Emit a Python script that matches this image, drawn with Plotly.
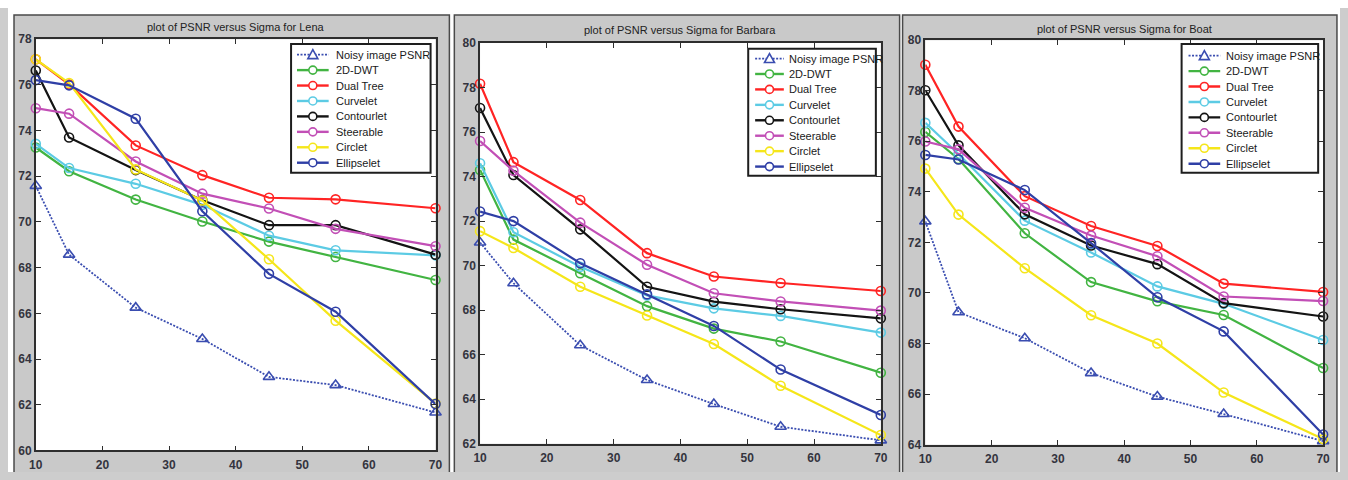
import plotly.graph_objects as go

# The page adds an 8px body margin; the figure is sized so the page is 1348x480.
PAGE_W, PAGE_H, OFF = 1348, 480, 8
W, H = PAGE_W - 2 * OFF, PAGE_H - 2 * OFF

sigma = [10, 15, 25, 35, 45, 55, 70]
x_ticks = [10, 20, 30, 40, 50, 60, 70]

series_names = ["Noisy image PSNR", "2D-DWT", "Dual Tree", "Curvelet",
                "Contourlet", "Steerable", "Circlet", "Ellipselet"]
series_colors = ["#3a4db0", "#42b442", "#ff2424", "#5ccbe4",
                 "#141414", "#c24fb6", "#f5e61a", "#2f3fa6"]

# Lena
lena_noisy = [71.58, 68.57, 66.25, 64.88, 63.22, 62.86, 61.66]
lena_dwt = [73.26, 72.22, 70.98, 70.02, 69.14, 68.47, 67.46]
lena_dual = [77.12, 76.02, 73.35, 72.05, 71.06, 70.99, 70.60]
lena_curve = [73.42, 72.36, 71.67, 70.75, 69.40, 68.76, 68.54]
lena_contour = [76.63, 73.70, 72.27, 70.95, 69.86, 69.86, 68.57]
lena_steer = [74.98, 74.74, 72.65, 71.24, 70.59, 69.70, 68.94]
lena_circlet = [77.12, 76.08, 72.30, 70.94, 68.37, 65.68, 62.05]
lena_ellip = [76.21, 75.98, 74.52, 70.47, 67.73, 66.07, 62.03]

# Barbara
barb_noisy = [71.04, 69.21, 66.42, 64.86, 63.78, 62.76, 62.15]
barb_dwt = [74.30, 71.17, 69.66, 68.18, 67.17, 66.59, 65.19]
barb_dual = [78.17, 74.65, 72.95, 70.56, 69.51, 69.22, 68.86]
barb_curve = [74.60, 71.50, 69.95, 68.66, 68.08, 67.74, 66.99]
barb_contour = [77.08, 74.07, 71.63, 69.05, 68.38, 68.04, 67.63]
barb_steer = [75.60, 74.26, 71.93, 70.04, 68.76, 68.39, 67.98]
barb_circlet = [71.55, 70.79, 69.05, 67.76, 66.48, 64.60, 62.39]
barb_ellip = [72.43, 72.00, 70.11, 68.71, 67.29, 65.33, 63.29]

# Boat
boat_noisy = [72.83, 69.24, 68.21, 66.83, 65.90, 65.21, 64.14]
boat_dwt = [76.37, 75.30, 72.36, 70.43, 69.67, 69.13, 67.03]
boat_dual = [79.03, 76.58, 73.83, 72.65, 71.86, 70.37, 70.04]
boat_curve = [76.73, 75.50, 72.86, 71.60, 70.26, 69.57, 68.14]
boat_contour = [78.02, 75.84, 73.11, 71.88, 71.14, 69.60, 69.07]
boat_steer = [75.99, 75.68, 73.37, 72.27, 71.45, 69.86, 69.68]
boat_circlet = [74.92, 73.10, 70.98, 69.12, 68.00, 66.06, 64.22]
boat_ellip = [75.46, 75.28, 74.07, 71.97, 69.83, 68.48, 64.40]

titles = ["plot of PSNR versus Sigma for Lena",
          "plot of PSNR versus Sigma for Barbara",
          "plot of PSNR versus Sigma for Boat"]
y_ranges = [[60, 78], [62, 80], [64, 80]]
y_ticks = [list(range(60, 79, 2)), list(range(62, 81, 2)), list(range(64, 81, 2))]

panel_data = [
    [lena_noisy, lena_dwt, lena_dual, lena_curve, lena_contour, lena_steer, lena_circlet, lena_ellip],
    [barb_noisy, barb_dwt, barb_dual, barb_curve, barb_contour, barb_steer, barb_circlet, barb_ellip],
    [boat_noisy, boat_dwt, boat_dual, boat_curve, boat_contour, boat_steer, boat_circlet, boat_ellip],
]

# ---- layout geometry (page pixels) ----
plot_px = [(29, 33, 433, 458), (478, 37, 883, 451), (928, 34, 1330, 452)]
panel_px = [(7, 8, 447, 490), (452, 8, 902, 490), (905, 8, 1344, 490)]
legend_px = [(287, 38, 428, 171), (749, 43, 878, 174), (1187, 38, 1325, 171)]
legend_first_row = [11, 10, 12]
legend_line = [(6, 38, 43), (7, 36, 39), (7, 39, 43)]
title_y = [20, 24, 22]
ROW = 15.95

FONT = "Liberation Sans, Arial, sans-serif"
TICKCOL = "#34343e"


def px(x):
    return (x - OFF) / W


def py(y):
    return 1 - (y - OFF) / H


fig = go.Figure()
shapes = []
annotations = []

for p in range(3):
    x0, y0, x1, y1 = panel_px[p]
    shapes.append(dict(type="rect", xref="paper", yref="paper", layer="below",
                       x0=px(x0), x1=px(x1), y0=py(y1), y1=py(y0),
                       fillcolor="#c9c9c9", line=dict(color="#4a4a4a", width=1.5)))
    l, t, r, b = plot_px[p]
    shapes.append(dict(type="rect", xref="paper", yref="paper", layer="below",
                       x0=px(l), x1=px(r), y0=py(b), y1=py(t),
                       fillcolor="white", line=dict(width=0)))

for p in range(3):
    sfx = "" if p == 0 else str(p + 1)
    xa, ya = "x" + sfx, "y" + sfx
    for i, name in enumerate(series_names):
        noisy = i == 0
        fig.add_trace(go.Scatter(
            x=sigma, y=panel_data[p][i], name=name, xaxis=xa, yaxis=ya,
            mode="lines+markers", showlegend=False, cliponaxis=False,
            line=dict(color=series_colors[i], width=1.8 if noisy else 2.2,
                      dash="2px,1.5px" if noisy else "solid"),
            marker=dict(symbol="triangle-up-open" if noisy else "circle-open",
                        size=10 if noisy else 9, color=series_colors[i],
                        line=dict(width=1.6, color=series_colors[i])),
        ))
    l, t, r, b = plot_px[p]
    axis_common = dict(showline=True, linecolor="#2e2e2e", linewidth=1.5, mirror="ticks",
                       ticks="inside", ticklen=5, tickcolor="#2e2e2e", tickwidth=1.3,
                       showgrid=False, zeroline=False,
                       tickfont=dict(family=FONT, size=12, color=TICKCOL, weight="bold"))
    fig.update_layout(**{
        "xaxis" + sfx: dict(domain=[px(l), px(r)], range=[10, 70], tickvals=x_ticks,
                            anchor=ya, ticklabelstandoff=2, **axis_common),
        "yaxis" + sfx: dict(domain=[py(b), py(t)], range=y_ranges[p], tickvals=y_ticks[p],
                            anchor=xa, ticklabelstandoff=0, **axis_common),
    })
    annotations.append(dict(text=titles[p], xref="paper", yref="paper",
                            x=px((l + r) / 2), y=py(title_y[p]), showarrow=False,
                            xanchor="center", yanchor="middle",
                            font=dict(family=FONT, size=11, color="#222222")))
    # legend box
    bx0, by0, bx1, by1 = legend_px[p]
    shapes.append(dict(type="rect", xref="paper", yref="paper", layer="above",
                       x0=px(bx0), x1=px(bx1), y0=py(by1), y1=py(by0),
                       fillcolor="white", line=dict(color="#1e1e1e", width=2)))
    la, lb, lt = legend_line[p]
    for i, name in enumerate(series_names):
        noisy = i == 0
        yy = py(by0 + legend_first_row[p] + ROW * i)
        c = series_colors[i]
        shapes.append(dict(type="line", xref="paper", yref="paper", layer="above",
                           x0=px(bx0 + la), x1=px(bx0 + lb), y0=yy, y1=yy,
                           line=dict(color=c, width=1.8 if noisy else 2.4,
                                     dash="2px,1.5px" if noisy else "solid")))
        mx = px(bx0 + (la + lb) / 2)
        if noisy:
            shapes.append(dict(type="path", xref="paper", yref="paper", layer="above",
                               xsizemode="pixel", ysizemode="pixel", xanchor=mx, yanchor=yy,
                               path="M -5,-4 L 5,-4 L 0,5 Z", fillcolor="white",
                               line=dict(color=c, width=1.6)))
        else:
            shapes.append(dict(type="circle", xref="paper", yref="paper", layer="above",
                               xsizemode="pixel", ysizemode="pixel", xanchor=mx, yanchor=yy,
                               x0=-4, x1=4, y0=-4, y1=4, fillcolor="white",
                               line=dict(color=c, width=1.6)))
        annotations.append(dict(text=name, xref="paper", yref="paper",
                                x=px(bx0 + lt), y=yy, showarrow=False,
                                xanchor="left", yanchor="middle",
                                font=dict(family=FONT, size=11, color="#1a1a1a")))

fig.update_layout(width=W, height=H, margin=dict(l=0, r=0, t=0, b=0),
                  paper_bgcolor="white", plot_bgcolor="white",
                  shapes=shapes, annotations=annotations, showlegend=False)

fig.write_html(
    "out.html", config={"displayModeBar": False},
    post_script="document.body.style.background="
                "'linear-gradient(to bottom, #ffffff 0px, #ffffff 8px, #cdcdcd 8px) no-repeat';"
                "document.body.style.minHeight='464px';")
